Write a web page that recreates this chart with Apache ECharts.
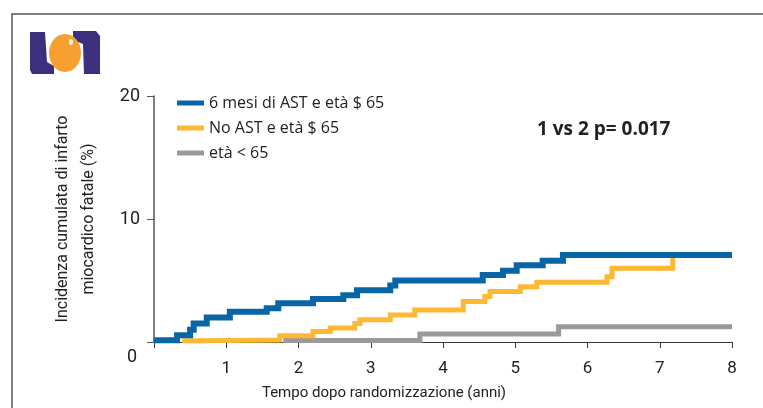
<!DOCTYPE html>
<html>
<head>
<meta charset="utf-8">
<script src="https://cdn.jsdelivr.net/npm/echarts@6/dist/echarts.min.js"></script>
<style>
  html, body { margin: 0; padding: 0; background: #fff; }
  #chart { width: 763px; height: 408px; }
</style>
</head>
<body>
<div id="chart"></div>
<script>
// dati: [anni, incidenza %]
var serieNomi = ['6 mesi di AST e età $ 65', 'No AST e età $ 65', 'età < 65'];
var bluDati = [[0, 0.15], [0.32, 0.55], [0.5, 1.0], [0.55, 1.5], [0.73, 2.0], [1.05, 2.45],
  [1.56, 2.75], [1.72, 3.15], [2.2, 3.5], [2.62, 3.8], [2.81, 4.2], [3.27, 4.6], [3.34, 5.0],
  [4.55, 5.45], [4.83, 5.8], [5.02, 6.25], [5.38, 6.6], [5.66, 7.07], [8, 7.07]];
var arancioDati = [[0.39, 0.1], [0.6, 0.16], [1.74, 0.5], [2.2, 0.85], [2.44, 1.13], [2.78, 1.5],
  [2.85, 1.8], [3.27, 2.2], [3.61, 2.6], [4.28, 3.3], [4.58, 3.7], [4.65, 4.1], [5.07, 4.5],
  [5.3, 4.85], [6.27, 5.3], [6.34, 6.0], [7.18, 7.0]];
var grigioDati = [[1.79, 0.12], [3.68, 0.65], [5.6, 1.25], [8, 1.25]];
var xTicks = [0, 8, 1];   // min, max, intervallo
var yTicks = [0, 20, 10];

var font = "Roboto, 'Open Sans', sans-serif";
var myChart = echarts.init(document.getElementById('chart'));

var option = {
  backgroundColor: '#fff',
  animation: false,
  grid: { left: 154, right: 31, top: 96, bottom: 66 },
  legend: {
    orient: 'vertical',
    left: 172,
    top: 89,
    icon: 'rect',
    itemWidth: 27,
    itemHeight: 5,
    itemGap: 7,
    data: serieNomi,
    textStyle: { fontFamily: "'Open Sans', sans-serif", fontSize: 16, color: '#222', lineHeight: 18 }
  },
  xAxis: {
    type: 'value',
    min: xTicks[0], max: xTicks[1], interval: xTicks[2],
    name: 'Tempo dopo randomizzazione (anni)',
    nameLocation: 'middle',
    nameGap: 44,
    nameTextStyle: { fontFamily: font, fontSize: 15, color: '#222', padding: [0, 118, 0, 0] },
    axisLine: { lineStyle: { color: '#333', width: 1 } },
    axisTick: { inside: false, length: 6, lineStyle: { color: '#333' } },
    axisLabel: {
      fontFamily: font, fontSize: 17, color: '#222', margin: 18,
      formatter: function (v) { return v === 0 ? '' : v; }
    },
    splitLine: { show: false }
  },
  yAxis: {
    type: 'value',
    min: yTicks[0], max: yTicks[1], interval: yTicks[2],
    name: 'Incidenza cumulata di infarto\nmiocardico fatale (%)',
    nameLocation: 'middle',
    nameRotate: 90,
    nameGap: 52,
    nameTextStyle: { fontFamily: font, fontSize: 16, color: '#222', lineHeight: 26 },
    axisLine: { show: true, lineStyle: { color: '#555', width: 1.5 } },
    axisTick: { show: true, length: 7, lineStyle: { color: '#555' } },
    axisLabel: {
      fontFamily: font, fontSize: 18, color: '#222', margin: 14, padding: [6, 0, 0, 0],
      formatter: function (v) { return v === 0 ? '' : v; }
    },
    splitLine: { show: false }
  },
  series: [
    {
      name: serieNomi[0], type: 'line', step: 'end', data: bluDati, z: 5,
      showSymbol: false, color: '#0865a6',
      lineStyle: { width: 6, color: '#0865a6', cap: 'butt', join: 'miter' }
    },
    {
      name: serieNomi[1], type: 'line', step: 'end', data: arancioDati, z: 4,
      showSymbol: false, color: '#fdb933',
      lineStyle: { width: 5, color: '#fdb933', cap: 'butt', join: 'miter' }
    },
    {
      name: serieNomi[2], type: 'line', step: 'end', data: grigioDati, z: 3,
      showSymbol: false, color: '#9a9a9c',
      lineStyle: { width: 5, color: '#9a9a9c', cap: 'butt', join: 'miter' }
    }
  ],
  graphic: [
    // cornice
    { type: 'rect', shape: { x: 12, y: 14, width: 800, height: 450 },
      style: { fill: 'none', stroke: '#555', lineWidth: 1.5 }, z: 0 },
    // logo
    { type: 'polygon', shape: { points: [[30, 32], [45, 32], [47, 62], [54, 66], [54, 74], [32, 74], [30, 70]] },
      style: { fill: '#3b2f7e' } },
    { type: 'polygon', shape: { points: [[73, 31], [96, 31], [100, 36], [100, 74], [84, 74], [83, 44], [73, 40]] },
      style: { fill: '#3b2f7e' } },
    { type: 'ellipse', shape: { cx: 65, cy: 53, rx: 16, ry: 19 }, style: { fill: '#f7a030' } },
    { type: 'ellipse', shape: { cx: 71, cy: 42, rx: 2, ry: 3 }, style: { fill: '#fff' } },
    // etichetta 0 all'origine
    { type: 'text', left: 127, top: 348,
      style: { text: '0', fontFamily: font, fontSize: 18, fill: '#222' } },
    // p-value
    { type: 'text', left: 537, top: 120,
      style: { text: '1 vs 2 p= 0.017', fontFamily: "'Open Sans', sans-serif", fontWeight: 'bold', fontSize: 19, fill: '#222' } }
  ]
};

myChart.setOption(option);
window.addEventListener('resize', function () {
  myChart.resize();
});
</script>
</body>
</html>
